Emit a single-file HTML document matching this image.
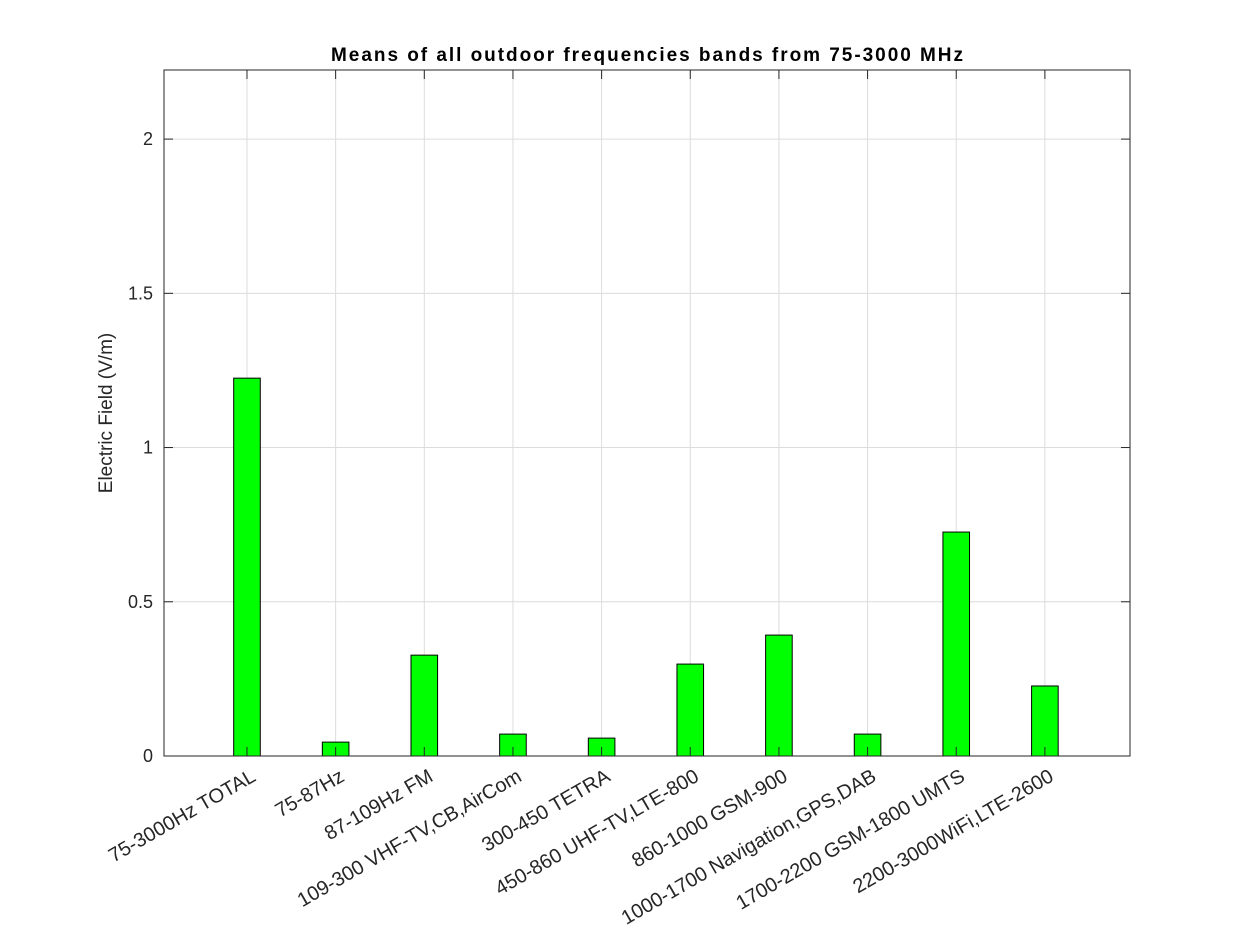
<!DOCTYPE html>
<html><head><meta charset="utf-8"><style>html,body{margin:0;padding:0;background:#fff}svg{display:block}</style></head>
<body>
<svg id="chart" width="1250" height="938" xmlns="http://www.w3.org/2000/svg" font-family="Liberation Sans, Arial, sans-serif">
<rect x="0" y="0" width="1250" height="938" fill="#fff"/>
<text x="331" y="61" font-size="19" font-weight="bold" fill="#000" textLength="632" lengthAdjust="spacing">Means of all outdoor frequencies bands from 75-3000 MHz</text>
<text transform="translate(112,413) rotate(-90)" text-anchor="middle" font-size="19" fill="#262626">Electric Field (V/m)</text>
<g id="grid"></g><g id="bars"></g><g id="axes"></g><g id="frame"></g>
</svg>
<script>
const categories = ["75-3000Hz TOTAL","75-87Hz","87-109Hz FM","109-300 VHF-TV,CB,AirCom","300-450 TETRA","450-860 UHF-TV,LTE-800","860-1000 GSM-900","1000-1700 Navigation,GPS,DAB","1700-2200 GSM-1800 UMTS","2200-3000WiFi,LTE-2600"];
const values = [1.225,0.045,0.327,0.071,0.058,0.298,0.392,0.071,0.726,0.227];
const yTicks = [0,0.5,1,1.5,2];
const yTickLabels = ["0","0.5","1","1.5","2"];
const NS="http://www.w3.org/2000/svg";
const L=164,R=1130,T=70,B=756,yMax=2.224,xMin=0.064,xMax=10.96;
const xs=i=>L+(i+1-xMin)/(xMax-xMin)*(R-L);
const ys=v=>B-v/yMax*(B-T);
function mk(tag,attrs,parent){const e=document.createElementNS(NS,tag);for(const k in attrs)e.setAttribute(k,attrs[k]);parent.appendChild(e);return e;}
const grid=document.getElementById('grid'),bars=document.getElementById('bars'),axes=document.getElementById('axes'),frame=document.getElementById('frame');
yTicks.forEach((t,i)=>{
  const y=ys(t);
  const g=mk('line',{x1:L,x2:R,y1:y,y2:y,stroke:'#dcdcdc','stroke-width':1},grid);
  
  
  mk('line',{x1:L,x2:L+9,y1:y,y2:y,stroke:'#262626'},axes);
  mk('line',{x1:R-9,x2:R,y1:y,y2:y,stroke:'#262626'},axes);
  const tx=mk('text',{x:L-11,y:y+6,'text-anchor':'end','font-size':18,fill:'#262626'},frame);
  tx.textContent=yTickLabels[i];
  
  
});
const bw=0.3/(xMax-xMin)*(R-L);
categories.forEach((c,i)=>{
  const x=xs(i);
  const g=mk('line',{x1:x,x2:x,y1:T,y2:B,stroke:'#dcdcdc'},grid);
  
  
  mk('line',{x1:x,x2:x,y1:B,y2:B-9,stroke:'#262626'},axes);
  mk('line',{x1:x,x2:x,y1:T,y2:T+9,stroke:'#262626'},axes);
  const r=mk('rect',{x:x-bw/2,y:ys(values[i]),width:bw,height:B-ys(values[i]),fill:'#00ff00',stroke:'#000','stroke-width':1},bars);
  
  
  const tx=mk('text',{transform:`translate(${x+10},${B+24}) rotate(-30)`,'text-anchor':'end','font-size':20,fill:'#262626'},frame);
  tx.textContent=c;
  
  
});
const box=mk('rect',{x:L,y:T,width:R-L,height:B-T,fill:'none',stroke:'#262626','stroke-width':1},frame);


</script>
</body></html>
